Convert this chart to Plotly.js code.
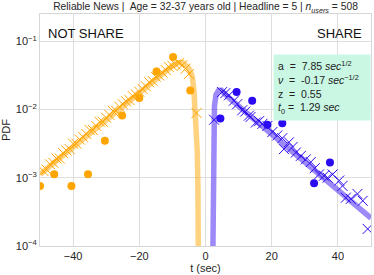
<!DOCTYPE html>
<html>
<head>
<meta charset="utf-8">
<script src="https://cdn.plot.ly/plotly-3.0.1.min.js"></script>
<style>html,body{margin:0;padding:0;background:#fff;}#chart{width:374px;height:275px;}</style>
</head>
<body>
<div id="chart"></div>
<script>
// NOT SHARE (orange) empirical points (circles)
const notShareCircleT = [-50, -45.7, -40.5, -35.5, -30.4, -25.2, -20, -14.8, -9.8, -4.6];
const notShareCirclePdf = [0.00076, 0.00113, 0.00076, 0.00113, 0.0035, 0.0082, 0.0148, 0.036, 0.059, 0.019];
// NOT SHARE crosses
const notShareCrossT = [-49,-48,-47,-46,-45,-44,-43,-42,-41,-40,-39,-38,-37,-36,-35,-34,-33,-32,-31,-30,-29,-28,-27,-26,-25,-24,-23,-22,-21,-20,-19,-18,-17,-16,-15,-14,-13,-12,-11,-10,-9,-8,-7,-6,-5,-2.7];
const notShareCrossPdf = [0.00126,0.00132,0.00158,0.00166,0.00191,0.00191,0.00229,0.00251,0.00263,0.00316,0.00316,0.00363,0.00398,0.00437,0.00501,0.00501,0.00575,0.00661,0.00661,0.00759,0.00832,0.00955,0.00955,0.01096,0.0120,0.0132,0.0138,0.0158,0.0166,0.0182,0.0200,0.0219,0.0251,0.0263,0.0302,0.0316,0.0347,0.0380,0.0417,0.0437,0.0457,0.0479,0.0447,0.0398,0.0331,0.0089];
// NOT SHARE fitted curve
const notShareFitT = [-50, -40, -30, -20, -12, -10, -8.5, -7, -6, -5, -4.3, -4, -3.5, -3.0, -2.5, -2.3, -2.15];
const notShareFitPdf = [0.00112, 0.00282, 0.00708, 0.0178, 0.0372, 0.0437, 0.0479, 0.0490, 0.0447, 0.0398, 0.0335, 0.0302, 0.0191, 0.0087, 0.00251, 0.00081, 0.00006];

// SHARE (blue) empirical points
const shareCircleT = [4.5, 9.4, 14.1, 18.7, 23.2, 32.8, 37.6];
const shareCirclePdf = [0.0074, 0.018, 0.0135, 0.006, 0.0063, 0.00083, 0.00168];
const shareCrossT = [2.6, 5.0, 6.0, 7.1, 8.6, 9.6, 11.1, 12.0, 13.1, 13.6, 15.2, 16.2, 17.2, 18.7, 20.2, 21.7, 23.2, 23.7, 25.2, 26.3, 27.3, 28.8, 30.3, 31.8, 33.0, 34.3, 35.8, 36.9, 38.4, 40.4, 41.4, 42.4, 43.9, 45.9, 47.5, 49.0];
const shareCrossPdf = [0.00708,0.0180,0.0174,0.0162,0.0135,0.0120,0.00977,0.00933,0.00813,0.00776,0.00646,0.00676,0.00617,0.00575,0.00468,0.00417,0.0038,0.00263,0.00331,0.00282,0.00234,0.00209,0.00186,0.00170,0.00138,0.00112,0.00107,0.00100,0.00112,0.00091,0.00076,0.00051,0.00049,0.00058,0.00046,0.000178];
const shareFitT = [2.2, 2.3, 2.45, 2.7, 3.2, 4.0, 4.8, 6, 10, 20, 30, 40, 50];
const shareFitPdf = [0.00006, 0.0010, 0.0050, 0.0112, 0.0166, 0.0191, 0.0191, 0.0166, 0.0112, 0.00437, 0.0017, 0.00066, 0.000257];

const xTicks = [-40, -20, 0, 20, 40];
const yTickVals = [1e-4, 1e-3, 1e-2, 1e-1];
const yTickText = ['10<sup>−4</sup>', '10<sup>−3</sup>', '10<sup>−2</sup>', '10<sup>−1</sup>'];

const ORANGE = '#FFA500';
const BLUE = '#2a0af0';
const FONT = 'Liberation Sans, Arial, sans-serif';

const traces = [
  {x: notShareFitT, y: notShareFitPdf, mode: 'lines', line: {color: 'rgba(255,165,0,0.5)', width: 5.5}, hoverinfo: 'skip'},
  {x: shareFitT, y: shareFitPdf, mode: 'lines', line: {color: 'rgba(60,20,240,0.5)', width: 5.5}, hoverinfo: 'skip'},
  {x: notShareCrossT, y: notShareCrossPdf, mode: 'markers', marker: {symbol: 'x-thin', size: 10, line: {color: ORANGE, width: 1}, color: ORANGE}},
  {x: shareCrossT, y: shareCrossPdf, mode: 'markers', marker: {symbol: 'x-thin', size: 10, line: {color: BLUE, width: 1}, color: BLUE}},
  {x: notShareCircleT, y: notShareCirclePdf, mode: 'markers', marker: {symbol: 'circle', size: 8, color: ORANGE}},
  {x: shareCircleT, y: shareCirclePdf, mode: 'markers', marker: {symbol: 'circle', size: 8, color: BLUE}}
];

const layout = {
  width: 374, height: 275,
  margin: {l: 40, r: 3, t: 14, b: 29},
  paper_bgcolor: '#fff', plot_bgcolor: '#fff',
  showlegend: false,
  font: {family: FONT, size: 11, color: '#262626'},
  title: {text: 'Reliable News |  Age = 32-37 years old | Headline = 5 | <i>n</i><sub><i>users</i></sub> = 508',
          font: {family: FONT, size: 10.3, color: '#262626'}, x: 0.5, xref: 'paper', xanchor: 'center', y: 0.975, yref: 'container', yanchor: 'middle'},
  xaxis: {range: [-50, 50], tickvals: xTicks, showgrid: true, gridcolor: '#dedede', gridwidth: 1, zeroline: false,
          showline: true, mirror: true, linecolor: '#d6d6d6', linewidth: 1, ticks: '',
          tickfont: {family: FONT, size: 11, color: '#262626'},
          title: {text: 't (sec)', font: {family: FONT, size: 11, color: '#262626'}, standoff: 2}},
  yaxis: {type: 'log', range: [-4, -0.6], tickvals: yTickVals, ticktext: yTickText, showgrid: true, gridcolor: '#dedede', gridwidth: 1,
          zeroline: false, showline: true, mirror: true, linecolor: '#d6d6d6', linewidth: 1, ticks: '',
          tickfont: {family: FONT, size: 11, color: '#262626'},
          title: {text: 'PDF', font: {family: FONT, size: 11, color: '#262626'}, standoff: 4}},
  annotations: [
    {text: 'NOT SHARE', xref: 'paper', yref: 'paper', x: 0.018, y: 0.915, xanchor: 'left', yanchor: 'middle', showarrow: false,
     font: {family: FONT, size: 13, color: '#111'}},
    {text: 'SHARE', xref: 'paper', yref: 'paper', x: 0.978, y: 0.915, xanchor: 'right', yanchor: 'middle', showarrow: false,
     font: {family: FONT, size: 13, color: '#111'}},
    {text: 'a  =  7.85 <i>sec</i><sup>1/2</sup><br><i>ν</i>  =  -0.17 <i>sec</i><sup>−1/2</sup><br>z  =  0.55<br><i>t</i><sub>0</sub> =  1.29 <i>sec</i>',
     xref: 'paper', yref: 'paper', x: 0.704, y: 0.828, xanchor: 'left', yanchor: 'top', showarrow: false, align: 'left',
     bgcolor: '#c9f7e3', borderpad: 4, width: 88,
     font: {family: FONT, size: 10.5, color: '#222'}}
  ]
};

Plotly.newPlot('chart', traces, layout, {staticPlot: true, displayModeBar: false});
</script>
</body>
</html>
